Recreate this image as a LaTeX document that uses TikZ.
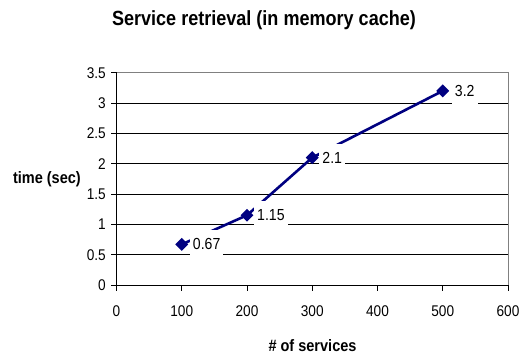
\documentclass[tikz,border=0pt]{standalone}
\usepackage{fontspec}
\setmainfont{Liberation Sans}[FakeStretch=0.88]
\usetikzlibrary{shapes.geometric}
\definecolor{series}{HTML}{000080}
\definecolor{frame}{HTML}{808080}
\pgfdeclarelayer{gridlayer}
\pgfdeclarelayer{linelayer}
\pgfsetlayers{gridlayer,linelayer,main}

\begin{document}
\begin{tikzpicture}[x=1pt,y=-1pt,
  grid/.style={black,line width=0.9pt},
  border/.style={frame,line width=1pt},
  axis/.style={black,line width=1pt},
  tick/.style={black,line width=1pt},
  ticklbl/.style={font=\fontsize{15.5}{17}\selectfont,inner sep=0pt},
  axtitle/.style={font=\bfseries\fontsize{16.5}{19}\selectfont,inner sep=0pt},
  serie/.style={series,line width=2.6pt},
  ptmark/.style={diamond,fill=series,inner sep=0pt,minimum width=13pt,minimum height=13pt},
  vlabel/.style={fill=white,anchor=west,inner xsep=3pt,inner ysep=0pt,
    minimum height=28pt,font=\fontsize{16}{18}\selectfont},
]
\useasboundingbox (0,0) rectangle (523,354);

% plot area: x 0..600 -> 116.5..508, y 0..3.5 -> 285..72.7
\def\xo{116.5}
\def\yo{285}
\def\xs{0.6525}   % px per service
\def\ys{60.66}    % px per second

\begin{pgfonlayer}{gridlayer}
% horizontal gridlines
\foreach \v in {0.5,1,...,3.0}
  \draw[grid] (\xo,{\yo-\v*\ys}) -- (508,{\yo-\v*\ys});
% plot area frame (top and right)
\draw[border] (\xo,{\yo-3.5*\ys}) -- (508,{\yo-3.5*\ys}) -- (508,\yo);
% axes
\draw[axis] (\xo,{\yo-3.5*\ys}) -- (\xo,\yo) -- (508,\yo);
% y ticks and labels
\foreach \v/\t in {0/0,0.5/0.5,1/1,1.5/1.5,2/2,2.5/2.5,3/3,3.5/3.5}{
  \draw[tick] (111,{\yo-\v*\ys}) -- (\xo,{\yo-\v*\ys});
  \node[ticklbl,anchor=east] at (106,{\yo-\v*\ys}) {\t};
}
% x ticks and labels
\foreach \v in {0,100,...,600}{
  \draw[tick] ({\xo+\v*\xs},\yo) -- ({\xo+\v*\xs},290.5);
  \node[ticklbl] at ({\xo+\v*\xs},311) {\v};
}
\end{pgfonlayer}

% data points
\node[ptmark] (p1) at ({\xo+100*\xs},{\yo-0.67*\ys}) {};
\node[ptmark] (p2) at ({\xo+200*\xs},{\yo-1.15*\ys}) {};
\node[ptmark] (p3) at ({\xo+300*\xs},{\yo-2.1*\ys}) {};
\node[ptmark] (p4) at ({\xo+500*\xs},{\yo-3.2*\ys}) {};

% series line, below the markers
\begin{pgfonlayer}{linelayer}
\draw[serie] (p1.center) -- (p2.center) -- (p3.center) -- (p4.center);
\end{pgfonlayer}

% value labels on white boxes
\node[vlabel] (l1) at ([xshift=8pt]p1.center) {0.67};
\node[vlabel] (l2) at ([xshift=7pt]p2.center) {1.15};
\node[vlabel] (l3) at ([xshift=7pt]p3.center) {2.1};
\node[vlabel] (l4) at ([xshift=9pt]p4.center) {3.2};

% titles
\node[font=\bfseries\fontsize{20.5}{24}\selectfont,anchor=base,inner sep=0pt] (title) at (264,25) {Service retrieval (in memory cache)};
\node[axtitle,anchor=base east] (ytitle) at (81,183) {time (sec)};
\node[axtitle,anchor=base] (xtitle) at (312.5,351) {\# of services};
\end{tikzpicture}
\end{document}
